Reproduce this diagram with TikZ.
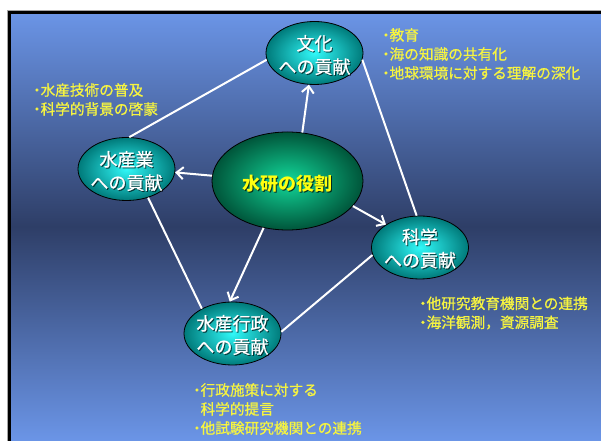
\documentclass[tikz,border=0pt]{standalone}
\usepackage{fontspec}
\newfontfamily\jp{Noto Sans CJK JP}
\newfontfamily\jpm{Noto Sans CJK JP}[FakeBold=0.8]
\newcommand\bul{\makebox[0.5em]{・}}
\usetikzlibrary{arrows.meta,shapes.geometric}
\definecolor{bgtop}{HTML}{6B95E7}
\definecolor{bgmid}{HTML}{2E3E67}
\definecolor{tealin}{HTML}{30F8F8}
\definecolor{tealout}{HTML}{007A7A}
\definecolor{greenin}{HTML}{12D89A}
\definecolor{greenout}{HTML}{00553A}
\definecolor{annot}{HTML}{F6F440}
\definecolor{coretxt}{HTML}{FFFF10}
\begin{document}
\begin{tikzpicture}[x=0.75pt,y=-0.75pt,
  bub/.style={ellipse, draw=black, line width=0.6pt, inner color=tealin, outer color=tealout,
    minimum width=72.75pt, minimum height=47.25pt, inner sep=0pt},
  core/.style={ellipse, draw=black, line width=0.6pt, inner color=greenin, outer color=greenout,
    minimum width=113.25pt, minimum height=73.5pt, inner sep=0pt},
  btxt/.style={text=white, align=center, font=\jpm\fontsize{13.5pt}{17.5pt}\selectfont, inner sep=0pt},
  bsh/.style={btxt, text=black, opacity=0.6},
  ctxt/.style={text=coretxt, font=\jp\bfseries\fontsize{13.5pt}{17.5pt}\selectfont, inner sep=0pt},
  csh/.style={ctxt, text=black, opacity=0.7},
  ann/.style={text=annot, align=left, anchor=west, font=\jpm\fontsize{11pt}{14.25pt}\selectfont, inner sep=0pt},
  link/.style={draw=white, line width=1.5pt},
  arr/.style={link, -{Straight Barb[length=5pt,width=9pt,line width=1.5pt]}}
]
\useasboundingbox (0,0) rectangle (601,441);
\clip (0,0) rectangle (601,441);
\fill[white] (0,0) rectangle (601,441);
\shade[top color=bgtop, bottom color=bgtop, middle color=bgmid] (9,12) rectangle (603,441);
\draw[gray!70, line width=0.75pt] (7.6,445) |- (605,10.6);
\draw[black, line width=2.1pt] (9.3,445) |- (605,12.5);

\node[bub] (bunka) at (314.5,53) {};
\node[bub] (suisan) at (126.5,169) {};
\node[bub] (kagaku) at (420,247.5) {};
\node[bub] (gyosei) at (232.5,333.5) {};
\node[core] (core) at (287.5,181) {};

\draw[link] (bunka.188) -- (suisan.85);
\draw[link] (bunka.352) -- (kagaku.96);
\draw[link] (suisan.-53) -- (gyosei.141);
\draw[link] (kagaku.189) -- (gyosei.2);
\draw[arr] (core.73) -- (bunka.260);
\draw[arr] (core.176) -- (suisan.-4);
\draw[arr] (core.-21) -- (kagaku.146);
\draw[arr] (core.243) -- (gyosei.95);

\node[bsh] (bunkash) at (315.5,56) {文化\\への貢献};
\node[btxt] (bunkatx) at (314.5,55) {文化\\への貢献};
\node[bsh] (suisansh) at (127.5,172) {水産業\\への貢献};
\node[btxt] (suisantx) at (126.5,171) {水産業\\への貢献};
\node[bsh] (kagakush) at (421,249.5) {科学\\への貢献};
\node[btxt] (kagakutx) at (420,248.5) {科学\\への貢献};
\node[bsh] (gyoseish) at (233.5,336) {水産行政\\への貢献};
\node[btxt] (gyoseitx) at (232.5,335) {水産行政\\への貢献};
\node[csh] (coresh) at (288.2,184.5) {水研の役割};
\node[ctxt] (coretx) at (287,183.3) {水研の役割};

\node[ann] (a1) at (382,54) {\bul 教育\\\bul 海の知識の共有化\\\bul 地球環境に対する理解の深化};
\node[ann] (a2) at (33,99.5) {\bul 水産技術の普及\\\bul 科学的背景の啓蒙};
\node[ann] (a3) at (419,313) {\bul 他研究教育機関との連携\\\bul 海洋観測，資源調査};
\node[ann] (a4) at (193,409) {\bul 行政施策に対する\\\hspace*{0.5em}科学的提言\\\bul 他試験研究機関との連携};
\end{tikzpicture}
\end{document}
